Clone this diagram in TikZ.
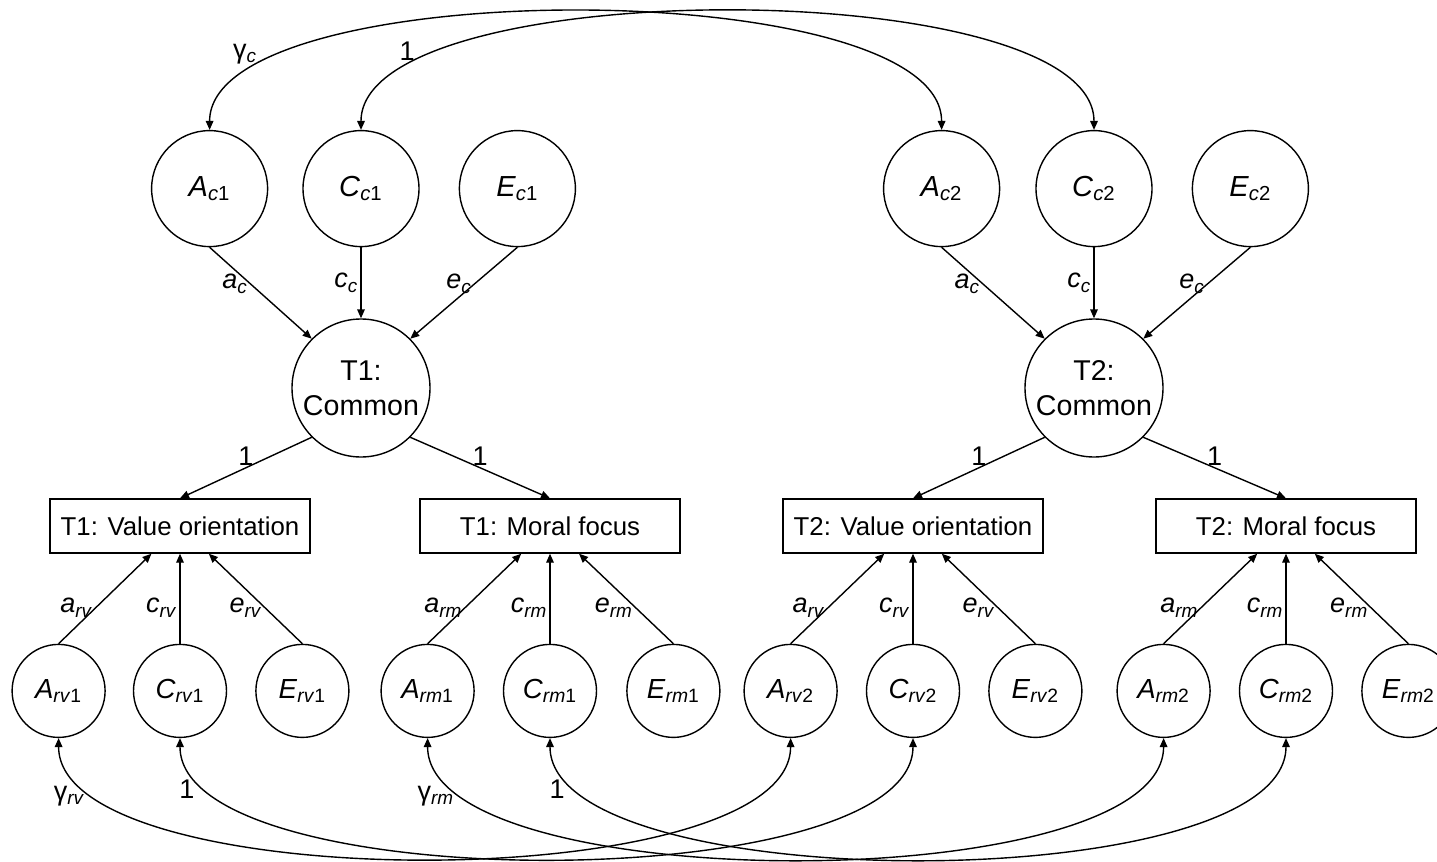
\documentclass[tikz,border=0pt]{standalone}
\usepackage{fontspec}
\setmainfont{Liberation Sans}
\usetikzlibrary{positioning,arrows.meta}
\newcommand{\lv}[3]{\textit{#1}\textsubscript{\textit{#2}#3}}
\newcommand{\pl}[2]{\textit{#1}\textsubscript{\textit{#2}}}

\begin{document}
\begin{tikzpicture}[x=0.5pt, y=-0.5pt, line width=0.7pt,
    com/.style={circle, draw=black, minimum size=69pt, inner sep=0pt, align=center,
               font=\fontsize{14.3}{17.5}\selectfont},
    lat/.style={circle, draw=black, minimum size=58pt, inner sep=0pt,
               font=\fontsize{14.5}{17}\selectfont},
    res/.style={circle, draw=black, minimum size=46.5pt, inner sep=0pt,
               font=\fontsize{13.8}{16}\selectfont},
    obs/.style={rectangle, draw=black, minimum width=130pt, minimum height=27pt,
               inner sep=0pt, font=\fontsize{12.9}{15}\selectfont},
    lab/.style={inner sep=1pt, font=\fontsize{13.5}{16}\selectfont},
    a/.style={-{Triangle[length=4.5pt,width=3.8pt]}},
    cov/.style={{Triangle[length=4.5pt,width=3.8pt]}-{Triangle[length=4.5pt,width=3.8pt]}}
]
    \useasboundingbox (0,0) rectangle (1437,862);

    % common factors and measures
    \node[com] (T1c) at (361,388) {T1:\\Common};
    \node[com] (T2c) at (1094,388) {T2:\\Common};
    \node[obs] (T1v) at (180,526) {T1: Value orientation};
    \node[obs] (T1m) at (550,526) {T1: Moral focus};
    \node[obs] (T2v) at (913,526) {T2: Value orientation};
    \node[obs] (T2m) at (1286,526) {T2: Moral focus};

    % common ACE
    \node[lat, above=35.5pt of T1c] (Cc1) {\lv{C}{c}{1}};
    \node[lat, left=17pt of Cc1] (Ac1) {\lv{A}{c}{1}};
    \node[lat, right=19.5pt of Cc1] (Ec1) {\lv{E}{c}{1}};
    \node[lat, above=35.5pt of T2c] (Cc2) {\lv{C}{c}{2}};
    \node[lat, left=17.5pt of Cc2] (Ac2) {\lv{A}{c}{2}};
    \node[lat, right=19.5pt of Cc2] (Ec2) {\lv{E}{c}{2}};

    % specific ACE
    \node[res, below=45pt of T1v] (Crv1) {\lv{C}{rv}{1}};
    \node[res, left=13.5pt of Crv1] (Arv1) {\lv{A}{rv}{1}};
    \node[res, right=14pt of Crv1] (Erv1) {\lv{E}{rv}{1}};
    \node[res, below=45pt of T1m] (Crm1) {\lv{C}{rm}{1}};
    \node[res, left=14pt of Crm1] (Arm1) {\lv{A}{rm}{1}};
    \node[res, right=14.5pt of Crm1] (Erm1) {\lv{E}{rm}{1}};
    \node[res, below=45pt of T2v] (Crv2) {\lv{C}{rv}{2}};
    \node[res, left=14pt of Crv2] (Arv2) {\lv{A}{rv}{2}};
    \node[res, right=14pt of Crv2] (Erv2) {\lv{E}{rv}{2}};
    \node[res, below=45pt of T2m] (Crm2) {\lv{C}{rm}{2}};
    \node[res, left=14pt of Crm2] (Arm2) {\lv{A}{rm}{2}};
    \node[res, right=14pt of Crm2] (Erm2) {\lv{E}{rm}{2}};

    % paths to common
    \draw[a] (Ac1.south) -- node[lab, pos=0.4, left] {\pl{a}{c}} (T1c.north west);
    \draw[a] (Cc1.south) -- node[lab, pos=0.5, left] {\pl{c}{c}} (T1c.north);
    \draw[a] (Ec1.south) -- node[lab, pos=0.4, left] {\pl{e}{c}} (T1c.north east);
    \draw[a] (Ac2.south) -- node[lab, pos=0.4, left] {\pl{a}{c}} (T2c.north west);
    \draw[a] (Cc2.south) -- node[lab, pos=0.5, left] {\pl{c}{c}} (T2c.north);
    \draw[a] (Ec2.south) -- node[lab, pos=0.4, left] {\pl{e}{c}} (T2c.north east);

    % loadings
    \draw[a] (T1c.south west) -- node[lab, above] {1} (T1v.north);
    \draw[a] (T1c.south east) -- node[lab, above] {1} (T1m.north);
    \draw[a] (T2c.south west) -- node[lab, above] {1} (T2v.north);
    \draw[a] (T2c.south east) -- node[lab, above] {1} (T2m.north);

    % paths to measures
    \draw[a] (Arv1.north) -- node[lab, pos=0.4, left] {\pl{a}{rv}} (T1v);
    \draw[a] (Crv1.north) -- node[lab, pos=0.4, left] {\pl{c}{rv}} (T1v);
    \draw[a] (Erv1.north) -- node[lab, pos=0.4, left] {\pl{e}{rv}} (T1v);
    \draw[a] (Arm1.north) -- node[lab, pos=0.4, left] {\pl{a}{rm}} (T1m);
    \draw[a] (Crm1.north) -- node[lab, pos=0.4, left] {\pl{c}{rm}} (T1m);
    \draw[a] (Erm1.north) -- node[lab, pos=0.4, left] {\pl{e}{rm}} (T1m);
    \draw[a] (Arv2.north) -- node[lab, pos=0.4, left] {\pl{a}{rv}} (T2v);
    \draw[a] (Crv2.north) -- node[lab, pos=0.4, left] {\pl{c}{rv}} (T2v);
    \draw[a] (Erv2.north) -- node[lab, pos=0.4, left] {\pl{e}{rv}} (T2v);
    \draw[a] (Arm2.north) -- node[lab, pos=0.4, left] {\pl{a}{rm}} (T2m);
    \draw[a] (Crm2.north) -- node[lab, pos=0.4, left] {\pl{c}{rm}} (T2m);
    \draw[a] (Erm2.north) -- node[lab, pos=0.4, left] {\pl{e}{rm}} (T2m);

    % cross-time correlations
    \draw[cov] (Ac1) to[out=90, in=90, looseness=0.55] node[lab, pos=0.16, above left] {γ\textsubscript{\textit{c}}} (Ac2);
    \draw[cov] (Cc1) to[out=90, in=90, looseness=0.55] node[lab, pos=0.17, above left] {1} (Cc2);
    \draw[cov] (Arv1) to[out=-90, in=-90, looseness=0.56] node[lab, pos=0.14, left=5pt] {γ\textsubscript{\textit{rv}}} (Arv2);
    \draw[cov] (Crv1) to[out=-90, in=-90, looseness=0.56] node[lab, pos=0.12, left=6pt] {1} (Crv2);
    \draw[cov] (Arm1) to[out=-90, in=-90, looseness=0.56] node[lab, pos=0.14, left=5pt] {γ\textsubscript{\textit{rm}}} (Arm2);
    \draw[cov] (Crm1) to[out=-90, in=-90, looseness=0.56] node[lab, pos=0.12, left=6pt] {1} (Crm2);
\end{tikzpicture}
\end{document}
